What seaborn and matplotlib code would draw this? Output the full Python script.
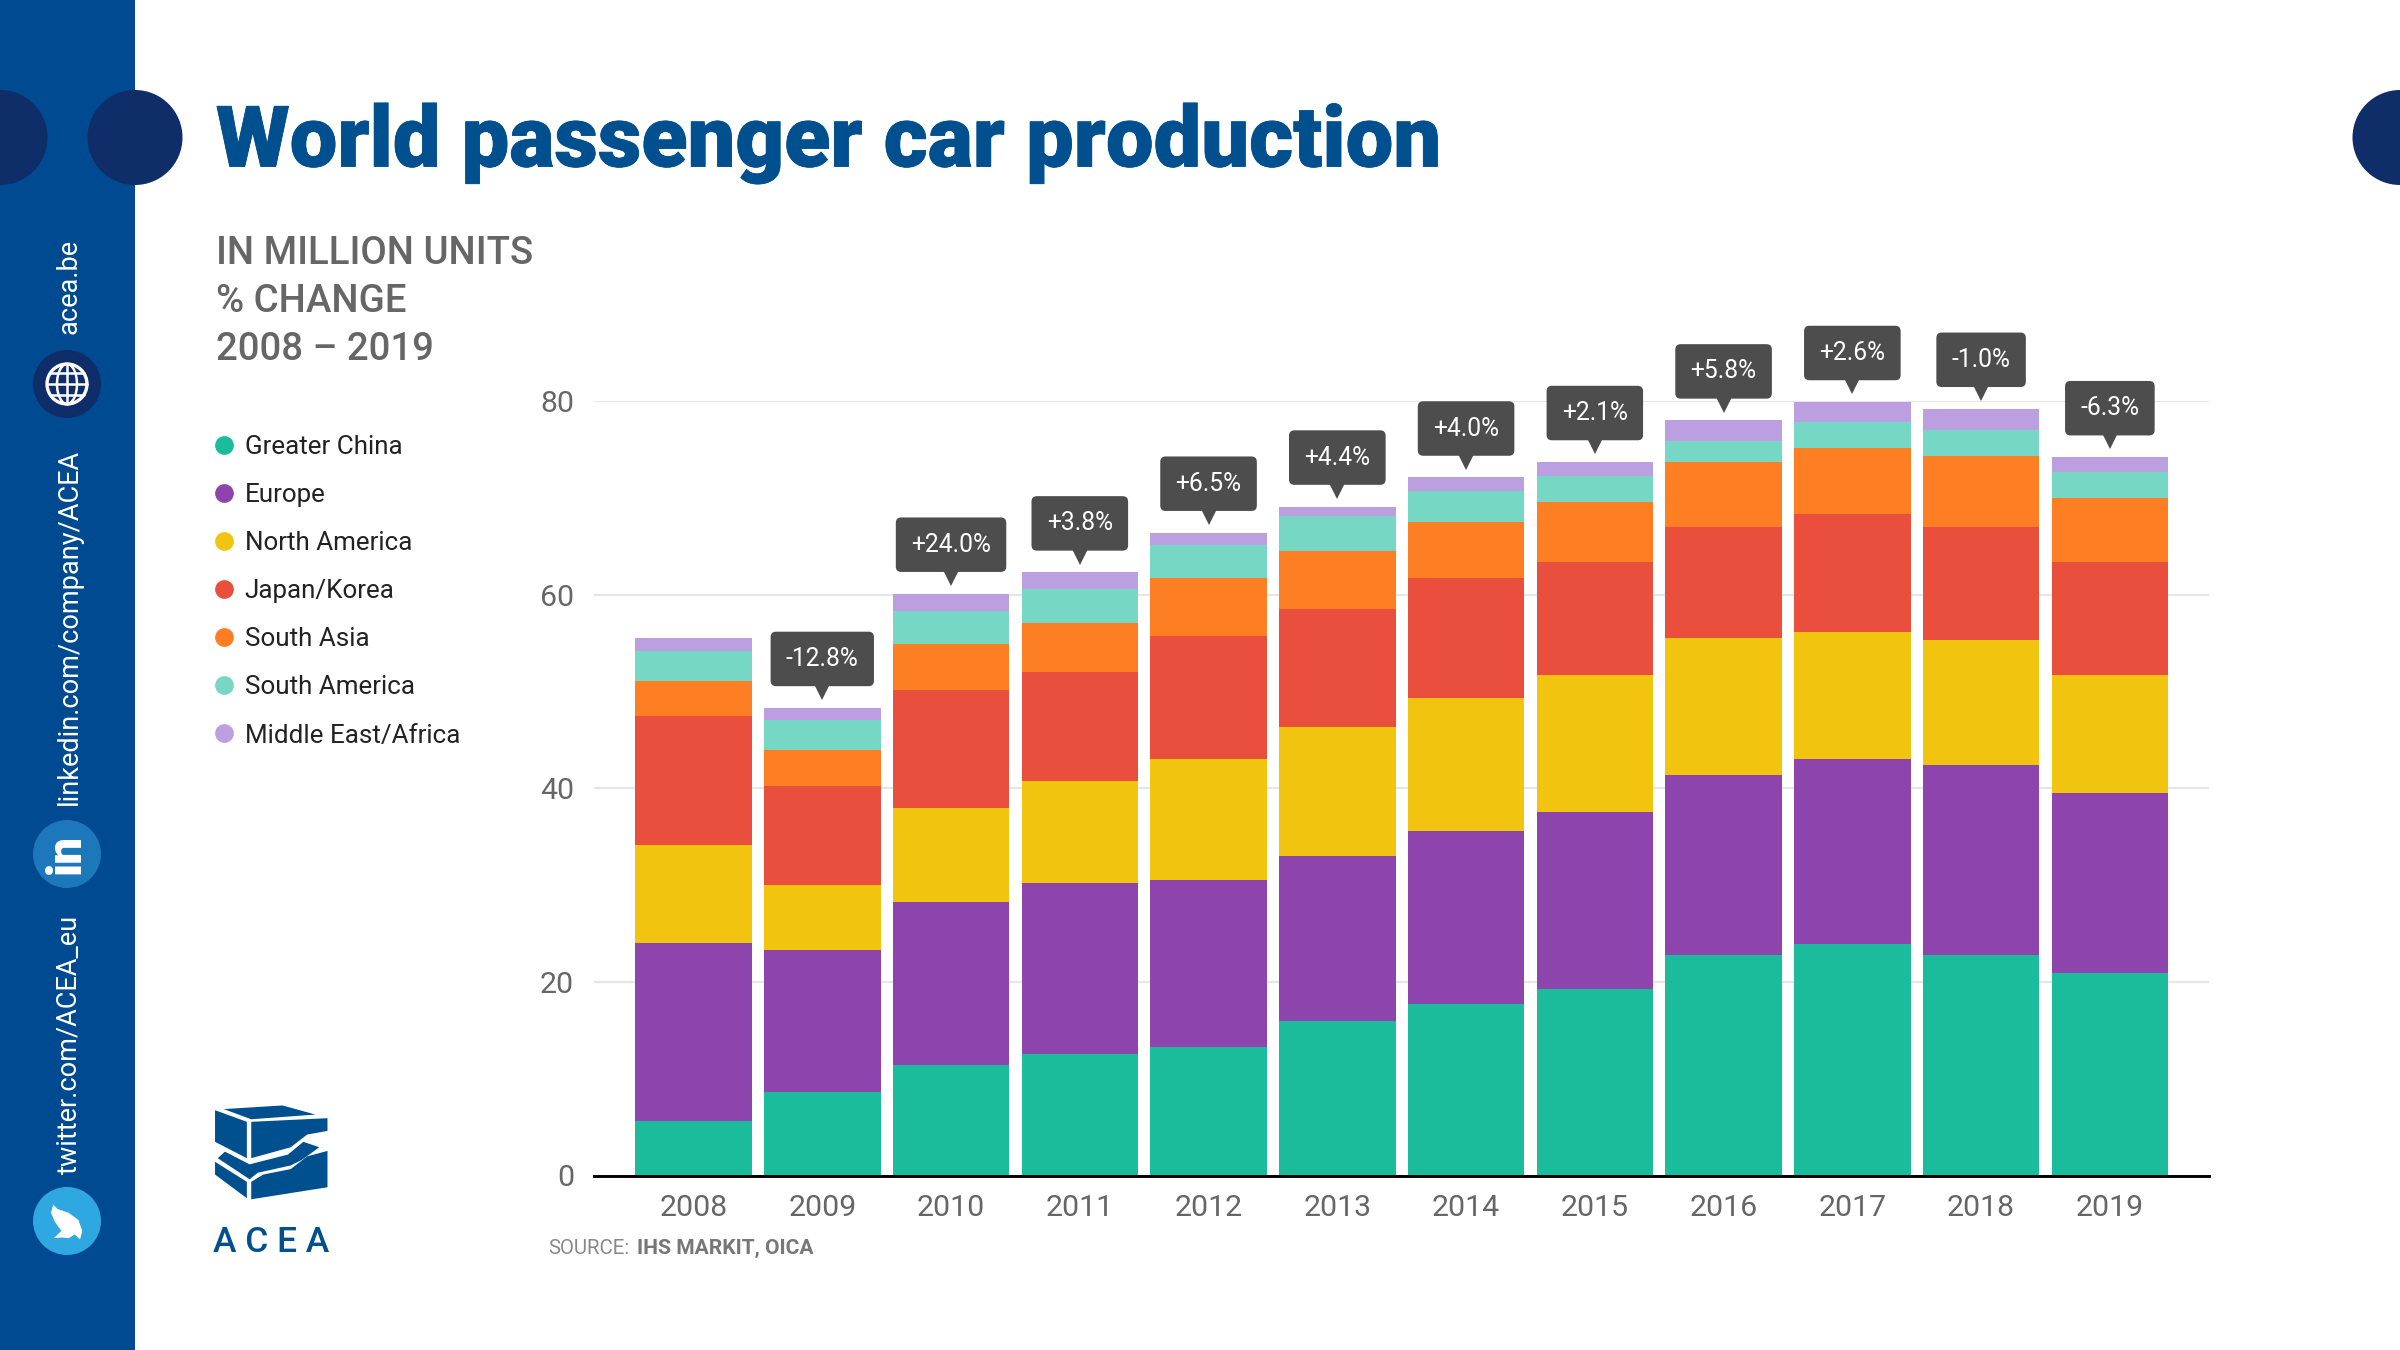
import numpy as np
import pandas as pd
import seaborn as sns
import matplotlib.pyplot as plt
import matplotlib.patheffects as pe
from matplotlib.lines import Line2D
from matplotlib.patches import Circle, Ellipse, Polygon, Rectangle
from matplotlib.transforms import ScaledTranslation

# Values (million units)
years = ['2008', '2009', '2010', '2011', '2012', '2013', '2014', '2015', '2016', '2017', '2018', '2019']
greater_china = [5.6, 8.6, 11.4, 12.5, 13.3, 16.0, 17.7, 19.3, 22.8, 23.9, 22.8, 20.9]
europe = [18.4, 14.7, 16.9, 17.7, 17.2, 17.0, 17.9, 18.2, 18.6, 19.1, 19.6, 18.6]
north_america = [10.1, 6.7, 9.7, 10.6, 12.5, 13.3, 13.7, 14.2, 14.1, 13.1, 12.9, 12.2]
japan_korea = [13.4, 10.2, 12.1, 11.2, 12.7, 12.2, 12.4, 11.7, 11.5, 12.2, 11.7, 11.7]
south_asia = [3.6, 3.8, 4.8, 5.1, 6.0, 6.0, 5.8, 6.2, 6.7, 6.8, 7.3, 6.6]
south_america = [3.1, 3.0, 3.4, 3.5, 3.4, 3.6, 3.2, 2.7, 2.2, 2.7, 2.7, 2.7]
middle_east = [1.3, 1.3, 1.8, 1.7, 1.3, 1.0, 1.4, 1.4, 2.1, 2.1, 2.2, 1.5]
changes = [None, '-12.8%', '+24.0%', '+3.8%', '+6.5%', '+4.4%', '+4.0%', '+2.1%', '+5.8%', '+2.6%', '-1.0%', '-6.3%']

regions = ['Greater China', 'Europe', 'North America', 'Japan/Korea', 'South Asia', 'South America', 'Middle East/Africa']
colors = ['#1abc9c', '#8e44ad', '#f1c40f', '#ea4f3d', '#fd7e23', '#76d7c4', '#bb9fe0']

df = pd.DataFrame(dict(zip(regions, [greater_china, europe, north_america, japan_korea,
                                     south_asia, south_america, middle_east])))
df['Year'] = years

sns.set_theme(style='white')
plt.rcParams['font.family'] = ['Roboto', 'DejaVu Sans']

BLUE = '#004a91'
NAVY = '#0f2d69'
GREY = '#666666'
LOGO_BLUE = '#00508f'

fig = plt.figure(figsize=(16, 9), dpi=150, facecolor='white')

# Page furniture is laid out in pixels on a full-figure axes
page = fig.add_axes([0, 0, 1, 1], zorder=0)
page.set_xlim(0, 2400)
page.set_ylim(1350, 0)
page.axis('off')

page.add_patch(Rectangle((0, 0), 135, 1350, color=BLUE, lw=0))
for cx in [0, 135, 2400]:
    page.add_patch(Circle((cx, 137.5), 47.5, color=NAVY, lw=0))

page.text(216, 143, 'World passenger car production', color=LOGO_BLUE, fontsize=40.7,
          fontweight='black', va='center', ha='left',
          path_effects=[pe.withStroke(linewidth=0.4, foreground=LOGO_BLUE)])
for y, line in zip([253.5, 301.5, 349.5], ['IN MILLION UNITS', '% CHANGE', '2008 – 2019']):
    page.text(216, y, line, color=GREY, fontsize=18.4, fontweight='medium', va='center', ha='left')

# Side bar links and icons
page.text(69, 334, 'acea.be', color='white', fontsize=13, rotation=90, va='center', ha='left', rotation_mode='anchor')
page.text(69, 805, 'linkedin.com/company/ACEA', color='white', fontsize=13, rotation=90, va='center', ha='left', rotation_mode='anchor')
page.text(69, 1174, 'twitter.com/ACEA_eu', color='white', fontsize=13, rotation=90, va='center', ha='left', rotation_mode='anchor')

page.add_patch(Circle((67, 384), 34, color=NAVY, lw=0))
page.add_patch(Circle((67, 384), 20, fc='none', ec='white', lw=1.6))
page.add_patch(Ellipse((67, 384), 20, 40, fc='none', ec='white', lw=1.2))
page.plot([47, 87], [384, 384], color='white', lw=1.2)
page.plot([67, 67], [364, 404], color='white', lw=1.2)
page.plot([50, 84], [373, 373], color='white', lw=1.2)
page.plot([50, 84], [395, 395], color='white', lw=1.2)

page.add_patch(Circle((67, 854), 34, color='#1c78bb', lw=0))
page.text(67, 854, 'in', color='white', fontsize=23, fontweight='black', rotation=90, va='center', ha='center')


def from_crop(points):
    # logo and bird were traced on a zoomed crop of the lower left corner
    return [(x / 1.823, 780 + y / 2.75) for x, y in points]


bird = [(97, 1168), (105, 1180), (125, 1190), (143, 1210), (150, 1240), (146, 1263), (136, 1250),
        (125, 1260), (112, 1258), (98, 1260), (112, 1240), (100, 1215), (93, 1190)]
page.add_patch(Circle((67, 1221), 34, color='#2fa7e1', lw=0))
page.add_patch(Polygon(from_crop(bird), color='white', lw=0))

logo_shapes = [
    [(408, 905), (515, 895), (575, 920), (458, 933)],
    [(392, 908), (450, 940), (450, 1040), (392, 995)],
    [(458, 940), (597, 930), (597, 965), (560, 975), (530, 1010), (458, 1040)],
    [(410, 1022), (455, 1057), (525, 1030), (553, 995), (582, 1010), (550, 1045), (530, 1060),
     (470, 1080), (455, 1098), (397, 1040)],
    [(392, 1050), (450, 1105), (450, 1150), (392, 1085)],
    [(458, 1105), (480, 1085), (530, 1070), (560, 1035), (597, 1020), (597, 1120), (458, 1153)],
]
for shape in logo_shapes:
    page.add_patch(Polygon(from_crop(shape), color=LOGO_BLUE, lw=0))
page.text(271, 1243, 'A C E A', color=LOGO_BLUE, fontsize=17, fontweight='medium', va='center', ha='center')

page.text(548, 1248, 'SOURCE:', color='#888888', fontsize=9.8, va='center', ha='left')
page.text(637, 1248, 'IHS MARKIT, OICA', color='#777777', fontsize=10.1, fontweight='bold', va='center', ha='left')

handles = [Line2D([], [], ls='none', marker='o', ms=9, mfc=c, mec='none', label=r) for r, c in zip(regions, colors)]
page.legend(handles=handles, loc='upper left', bbox_to_anchor=(216 / 2400, 1 - 435 / 1350), frameon=False,
            fontsize=12.5, labelspacing=0.925, handletextpad=0.5,
            handlelength=0.6, borderpad=0, borderaxespad=0, labelcolor='#222222')

# Stacked bars
ax = fig.add_axes([594 / 2400, 1 - 1175.5 / 1350, (2209 - 594) / 2400, (1175.5 - 401) / 1350], zorder=1)
ax.patch.set_alpha(0)
bottom = np.zeros(len(years))
for region, color in zip(regions, colors):
    sns.barplot(data=df, x='Year', y=region, bottom=bottom, color=color, saturation=1, width=0.905, linewidth=0, ax=ax)
    bottom = bottom + df[region].to_numpy()

ax.set_xlim(-0.773, 11.77)
ax.set_ylim(0, 80)
ax.set_yticks([0, 20, 40, 60, 80])
ax.set_xlabel('')
ax.set_ylabel('')
ax.set_axisbelow(True)
ax.grid(axis='y', color='#e6e6e6', lw=1.1)
sns.despine(ax=ax, left=True, top=True, right=True)
ax.spines['bottom'].set_color('black')
ax.spines['bottom'].set_linewidth(1.4)
ax.tick_params(axis='both', length=0, labelsize=14.5, labelcolor=GREY)
ax.tick_params(axis='x', pad=8.7)
ax.tick_params(axis='y', pad=9.5)

# Percent change callouts above each bar
tip = ax.transData + ScaledTranslation(0, 7.6 / 72, fig.dpi_scale_trans)
for i, label in enumerate(changes):
    if label is None:
        continue
    ax.annotate(label, xy=(i, bottom[i]), xytext=(0, 23.5), textcoords='offset points', ha='center', va='center',
                color='white', fontsize=11.8, annotation_clip=False, zorder=6,
                bbox=dict(boxstyle='round,pad=0.62,rounding_size=0.22', fc='#4d4d4d', ec='none'))
    ax.plot([i], [bottom[i]], marker='v', ms=7.5, color='#4d4d4d', mec='none', transform=tip, clip_on=False, zorder=5)

fig.savefig('out.png', dpi=150, facecolor='white')
